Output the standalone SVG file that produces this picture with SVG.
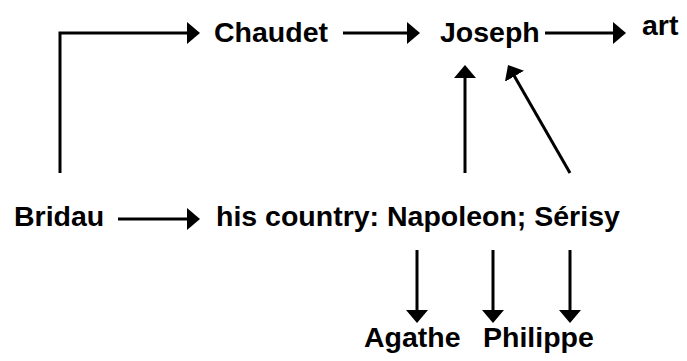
<svg xmlns="http://www.w3.org/2000/svg" width="687" height="361" viewBox="0 0 687 361">
  <style>
    .lbl { font-family: "Liberation Sans", Arial, sans-serif; font-weight: bold; font-size: 28.5px; fill: #000; }
    .edge { fill: none; stroke: #000; stroke-width: 3; marker-end: url(#head); }
  </style>
  <defs>
    <marker id="head" markerUnits="userSpaceOnUse" markerWidth="16" markerHeight="24" refX="3" refY="11" orient="auto">
      <path d="M0,0 L13,11 L0,22 Z" fill="#000"/>
    </marker>
  </defs>
  <rect width="687" height="361" fill="#fff"/>

  <g id="connectors">
    <path class="edge" d="M60,173 V33 H190"/>
    <path class="edge" d="M343,33 H410"/>
    <path class="edge" d="M545,33 H616"/>
    <path class="edge" d="M118,219 H190"/>
    <path class="edge" d="M465,173 V75"/>
    <path class="edge" d="M570,173 L513,73.7"/>
    <path class="edge" d="M417,250 V313"/>
    <path class="edge" d="M493,250 V313"/>
    <path class="edge" d="M570,250 V313"/>
  </g>

  <g id="chaudet"><text class="lbl" x="214" y="42">Chaudet</text></g>
  <g id="joseph"><text class="lbl" x="440" y="42">Joseph</text></g>
  <g id="art"><text class="lbl" x="642" y="35">art</text></g>
  <g id="bridau"><text class="lbl" x="14" y="226">Bridau</text></g>
  <g id="country"><text class="lbl" x="216" y="226">his country: Napoleon; Sérisy</text></g>
  <g id="agathe"><text class="lbl" x="364" y="347">Agathe</text></g>
  <g id="philippe"><text class="lbl" x="483" y="347">Philippe</text></g>
</svg>
